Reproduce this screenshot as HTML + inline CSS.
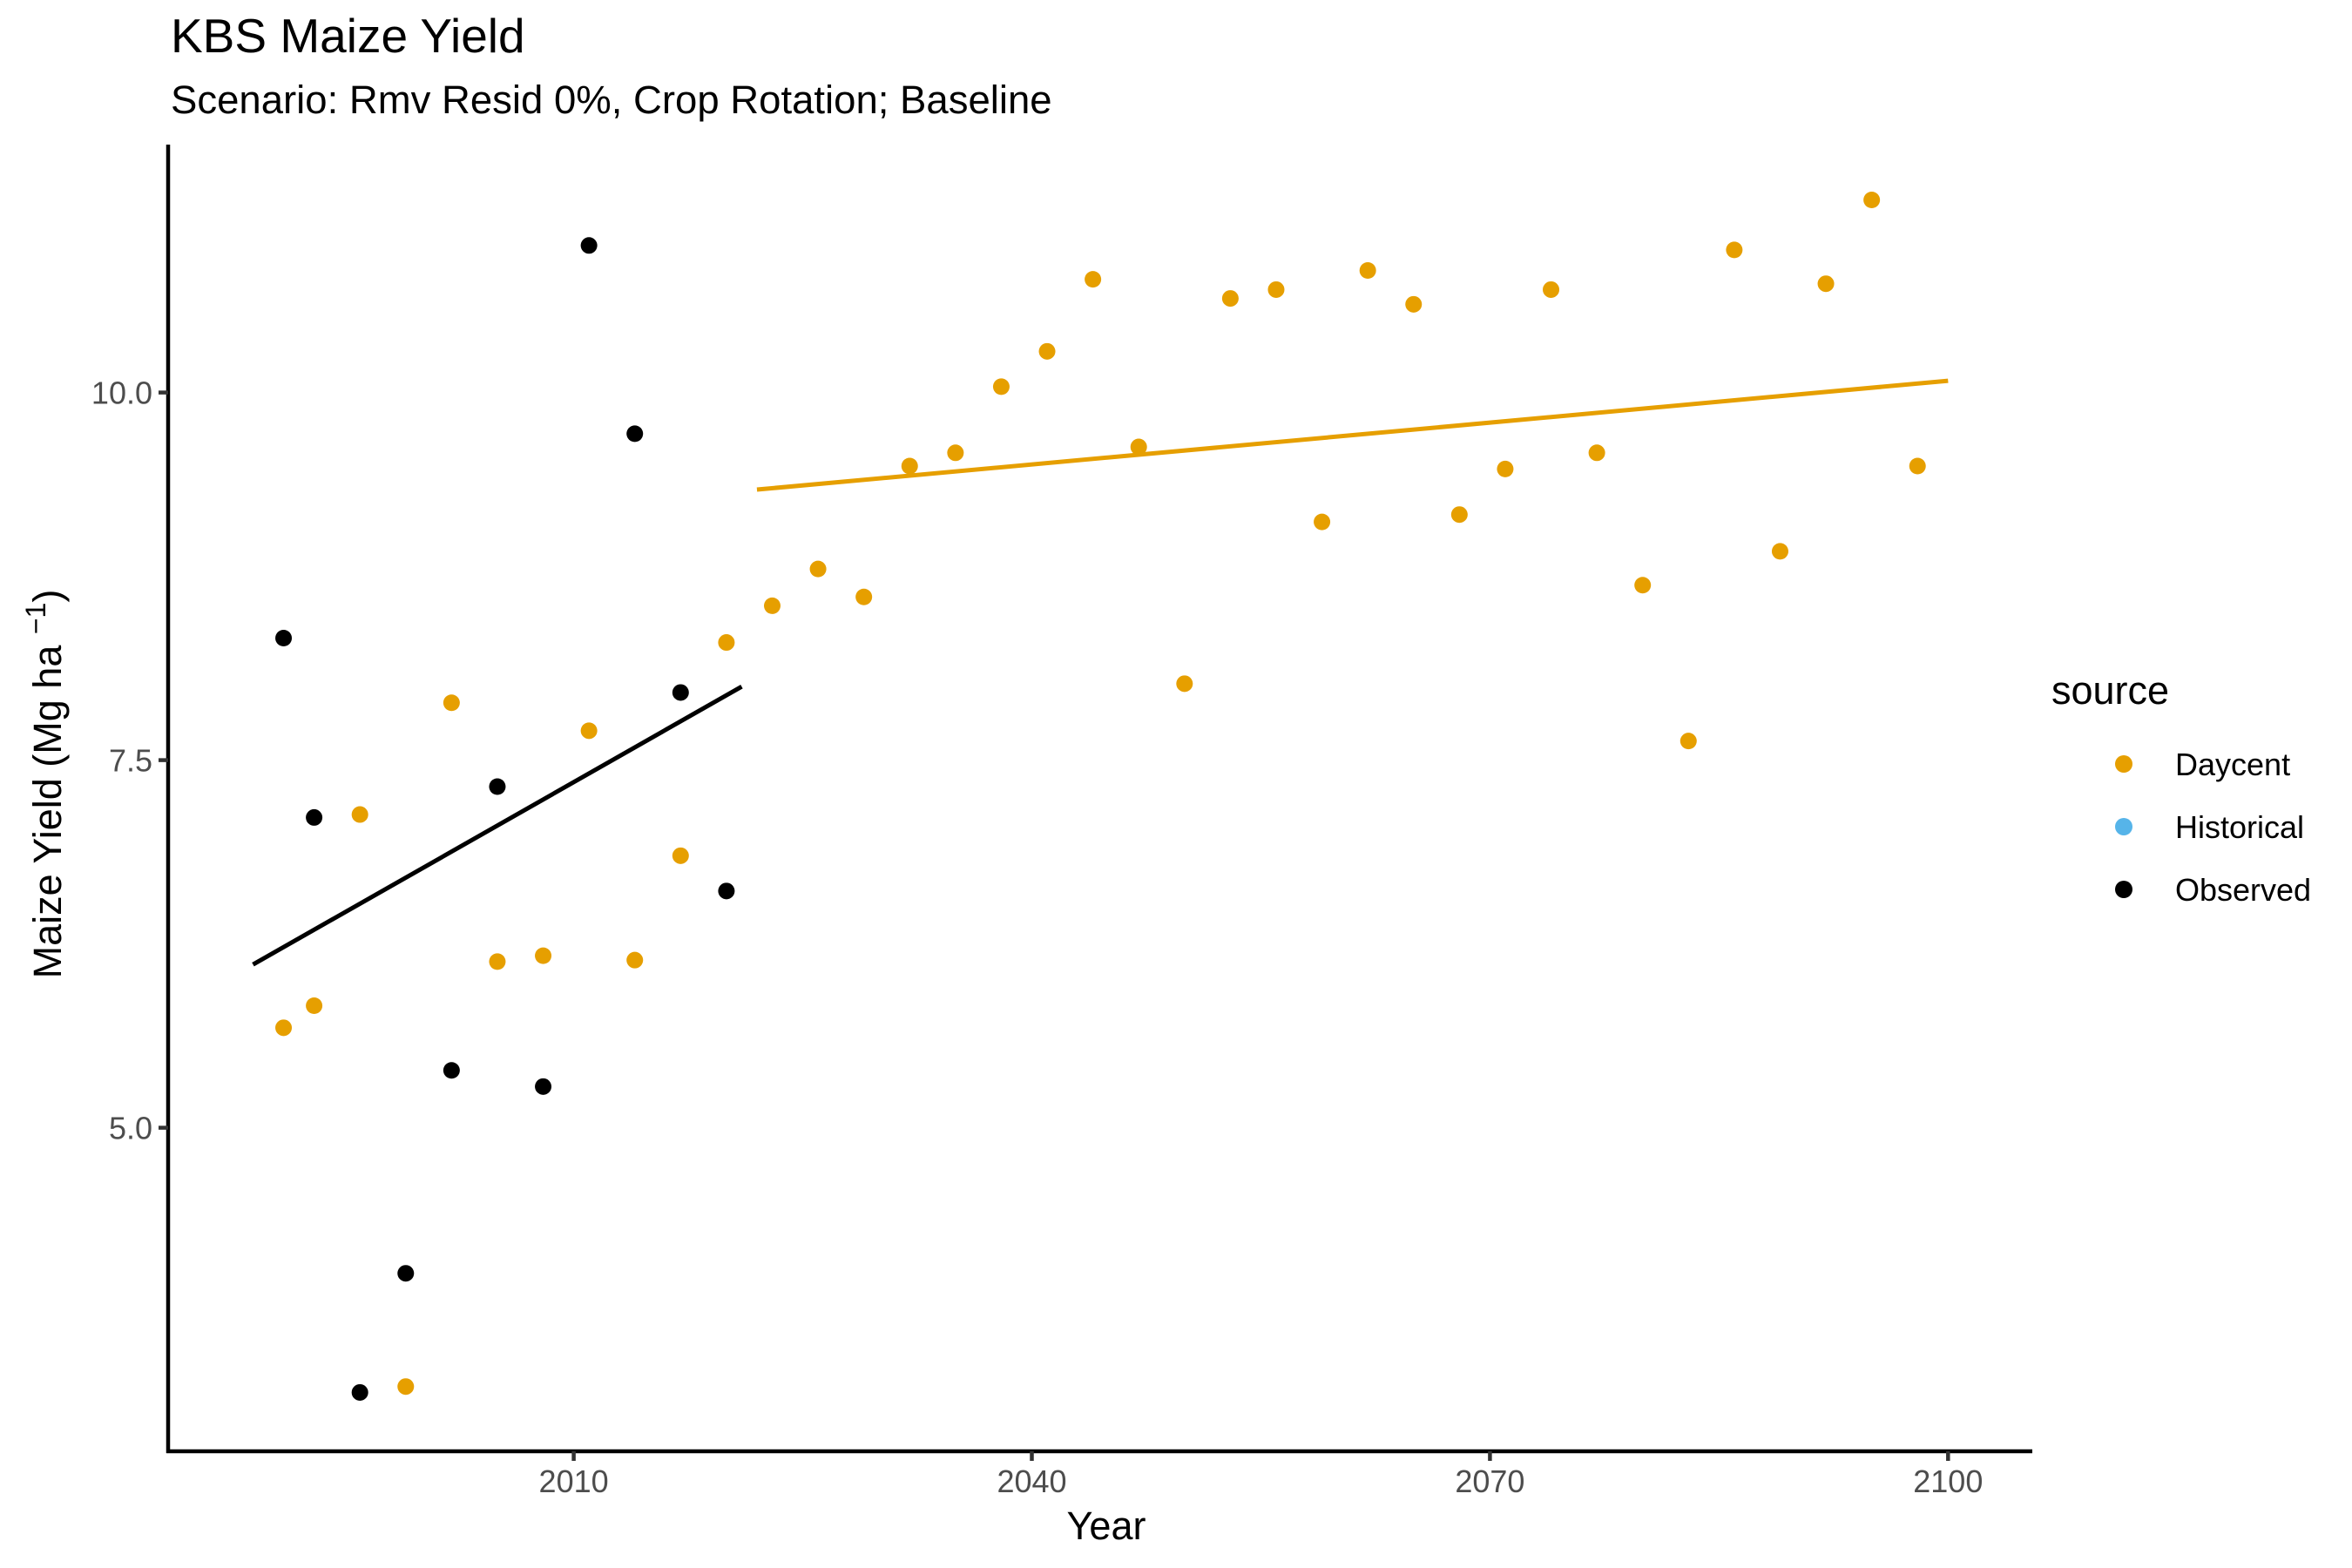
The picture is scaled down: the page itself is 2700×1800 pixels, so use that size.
<!DOCTYPE html>
<html><head><meta charset="utf-8"><style>
html,body{margin:0;padding:0;background:#fff;}
svg{display:block;font-family:"Liberation Sans",sans-serif;}
</style></head><body>
<svg id="chart" width="2700" height="1800" viewBox="0 0 2700 1800">
<rect width="2700" height="1800" fill="#fff"/>
<text x="196" y="60" font-size="55" fill="#000">KBS Maize Yield</text>
<text x="196" y="130" font-size="45.5" fill="#000">Scenario: Rmv Resid 0%, Crop Rotation; Baseline</text>
<g id="plot"></g>
<text transform="translate(70,900) rotate(-90)" text-anchor="middle" font-size="45" fill="#000">Maize Yield (Mg ha <tspan dy="-18" font-size="32">−1</tspan><tspan dy="18">)</tspan></text>
<text x="1270" y="1767" text-anchor="middle" font-size="45" fill="#000">Year</text>
<g>
<text x="2355" y="808" font-size="45" fill="#000">source</text>
<circle cx="2438" cy="877" r="10" fill="#E69F00"/>
<text x="2497" y="890" font-size="36" fill="#000">Daycent</text>
<circle cx="2438" cy="949" r="10" fill="#56B4E9"/>
<text x="2497" y="962" font-size="36" fill="#000">Historical</text>
<circle cx="2438" cy="1021" r="10" fill="#000"/>
<text x="2497" y="1034" font-size="36" fill="#000">Observed</text>
</g>
</svg>
<script>
const obsYears = [1991,1993,1996,1999,2002,2005,2008,2011,2014,2017,2020];
const obsValues = [8.33,7.11,3.20,4.01,5.39,7.32,5.28,11.0,9.72,7.96,6.61];
const dayYears = [1991,1993,1996,1999,2002,2005,2008,2011,2014,2017,2020,2023,2026,2029,2032,2035,2038,2041,2044,2047,2050,2053,2056,2059,2062,2065,2068,2071,2074,2077,2080,2083,2086,2089,2092,2095,2098];
const dayValues = [5.68,5.83,7.13,3.24,7.89,6.13,6.17,7.70,6.14,6.85,8.30,8.55,8.80,8.61,9.50,9.59,10.04,10.28,10.77,9.63,8.02,10.64,10.70,9.12,10.83,10.60,9.17,9.48,10.70,9.59,8.69,7.63,10.97,8.92,10.74,11.31,9.50];
const obsTrendYears = [1989,2021];
const obsTrendValues = [6.11,8.00];
const dayTrendYears = [2022,2100];
const dayTrendValues = [9.34,10.08];
const xTicks = [2010,2040,2070,2100];
const yTicks = [5.0,7.5,10.0];
const yTickLabels = ["5.0","7.5","10.0"];

const NS="http://www.w3.org/2000/svg";
const plot=document.getElementById('plot');
const X0=193,X1=2333,Y0=166,Y1=1666;
function xs(yr){return 658.6+(yr-2010)*17.53;}
function ys(v){return 450.6+(10-v)*168.8;}
function mk(tag,attrs){const e=document.createElementNS(NS,tag);for(const k in attrs)e.setAttribute(k,attrs[k]);plot.appendChild(e);return e;}

let ax=mk('line',{x1:X0,y1:Y0,x2:X0,y2:Y1+2,stroke:'#000','stroke-width':4.5});


ax=mk('line',{x1:X0-2,y1:Y1,x2:X1,y2:Y1,stroke:'#000','stroke-width':4.5});



xTicks.forEach(t=>{
  const l=mk('line',{x1:xs(t),y1:Y1,x2:xs(t),y2:Y1+11,stroke:'#333','stroke-width':4.5});
  
  
  const tx=mk('text',{x:xs(t),y:Y1+47,'text-anchor':'middle','font-size':36,fill:'#4D4D4D'});
  tx.textContent=String(t);
  
  
});
yTicks.forEach((t,i)=>{
  const l=mk('line',{x1:X0-11,y1:ys(t),x2:X0,y2:ys(t),stroke:'#333','stroke-width':4.5});
  
  
  const tx=mk('text',{x:X0-18,y:ys(t)+13,'text-anchor':'end','font-size':36,fill:'#4D4D4D'});
  tx.textContent=yTickLabels[i];
  
  
});

dayYears.forEach((yr,i)=>{
  const c=mk('circle',{cx:xs(yr),cy:ys(dayValues[i]),r:9.5,fill:'#E69F00'});
  
  
});
obsYears.forEach((yr,i)=>{
  const c=mk('circle',{cx:xs(yr),cy:ys(obsValues[i]),r:9.5,fill:'#000'});
  
  
});

let tl=mk('line',{x1:xs(obsTrendYears[0]),y1:ys(obsTrendValues[0]),x2:xs(obsTrendYears[1]),y2:ys(obsTrendValues[1]),stroke:'#000','stroke-width':5});


tl=mk('line',{x1:xs(dayTrendYears[0]),y1:ys(dayTrendValues[0]),x2:xs(dayTrendYears[1]),y2:ys(dayTrendValues[1]),stroke:'#E69F00','stroke-width':5});


</script>
</body></html>
